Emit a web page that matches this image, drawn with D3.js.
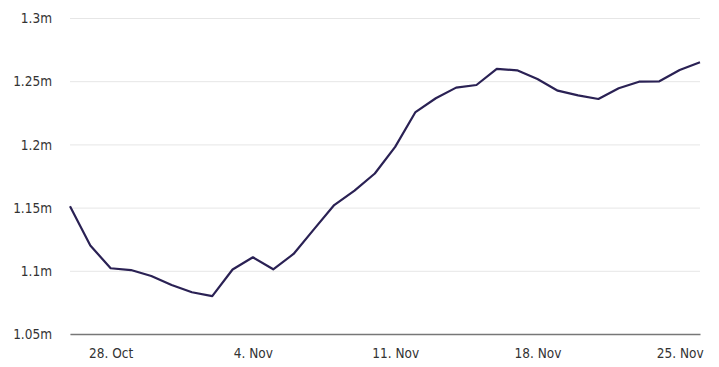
<!DOCTYPE html>
<html lang="en">
<head>
    <meta charset="UTF-8">
    <script src="https://d3js.org/d3.v7.min.js"></script>
    <style>
        body { margin: 0; background: #fff; }
        .tick text { font-family: "Liberation Sans Narrow", "DejaVu Sans Condensed", sans-serif; font-size: 13.5px; fill: #333; }
        .grid line { stroke: #e6e6e6; }
        .line { fill: none; stroke: #2a2154; stroke-width: 2.2; stroke-linejoin: round; }
    </style>
    <title>Chart</title>
</head>
<body>
    <div id="chart"></div>
    <script>
        // 26 Oct .. 26 Nov, one value per day
        const startDate = new Date(2020, 9, 26);
        const values = [
            1.151, 1.120, 1.102, 1.1006, 1.0959, 1.0888, 1.083, 1.080,
            1.101, 1.1107, 1.1012, 1.1133, 1.1328, 1.152, 1.1634, 1.177,
            1.198, 1.2256, 1.2365, 1.2449, 1.247, 1.2597, 1.2586, 1.2517,
            1.2425, 1.2388, 1.2359, 1.2444, 1.2496, 1.2499, 1.2589, 1.265
        ];
        const yTicks = [1.05, 1.1, 1.15, 1.2, 1.25, 1.3];
        const xTickDates = [new Date(2020, 9, 28), new Date(2020, 10, 4), new Date(2020, 10, 11),
                            new Date(2020, 10, 18), new Date(2020, 10, 25)];

        const data = values.map((v, i) => ({ date: d3.timeDay.offset(startDate, i), value: v }));

        var width = 719, height = 367;
        var margin = { top: 18, right: 19, bottom: 33, left: 70 };

        var svg = d3.select("#chart").append("svg")
            .attr("width", width)
            .attr("height", height);

        var x = d3.scaleTime()
            .domain(d3.extent(data, d => d.date))
            .range([margin.left, width - margin.right]);
        var y = d3.scaleLinear()
            .domain([1.05, 1.3])
            .range([height - margin.bottom, margin.top]);

        // grid + y labels
        svg.append("g")
            .attr("class", "grid")
            .attr("transform", "translate(" + margin.left + ",0)")
            .call(d3.axisLeft(y).tickValues(yTicks)
                .tickSize(-(width - margin.left - margin.right))
                .tickPadding(18)
                .tickFormat(d => d3.format("")(+d.toFixed(2)) + "m"))
            .call(g => g.select(".domain").remove())
            .call(g => g.selectAll(".tick text").attr("dy", "0.35em"));

        // x axis
        svg.append("g")
            .attr("transform", "translate(0," + (height - margin.bottom) + ")")
            .call(d3.axisBottom(x).tickValues(xTickDates)
                .tickSize(0)
                .tickPadding(14)
                .tickFormat(d => d.getDate() + ". " + d3.timeFormat("%b")(d)))
            .call(g => g.select(".domain").attr("stroke", "#777").attr("stroke-width", 1.5));

        svg.append("path")
            .datum(data)
            .attr("class", "line")
            .attr("d", d3.line().x(d => x(d.date)).y(d => y(d.value)));
    </script>
</body>
</html>
